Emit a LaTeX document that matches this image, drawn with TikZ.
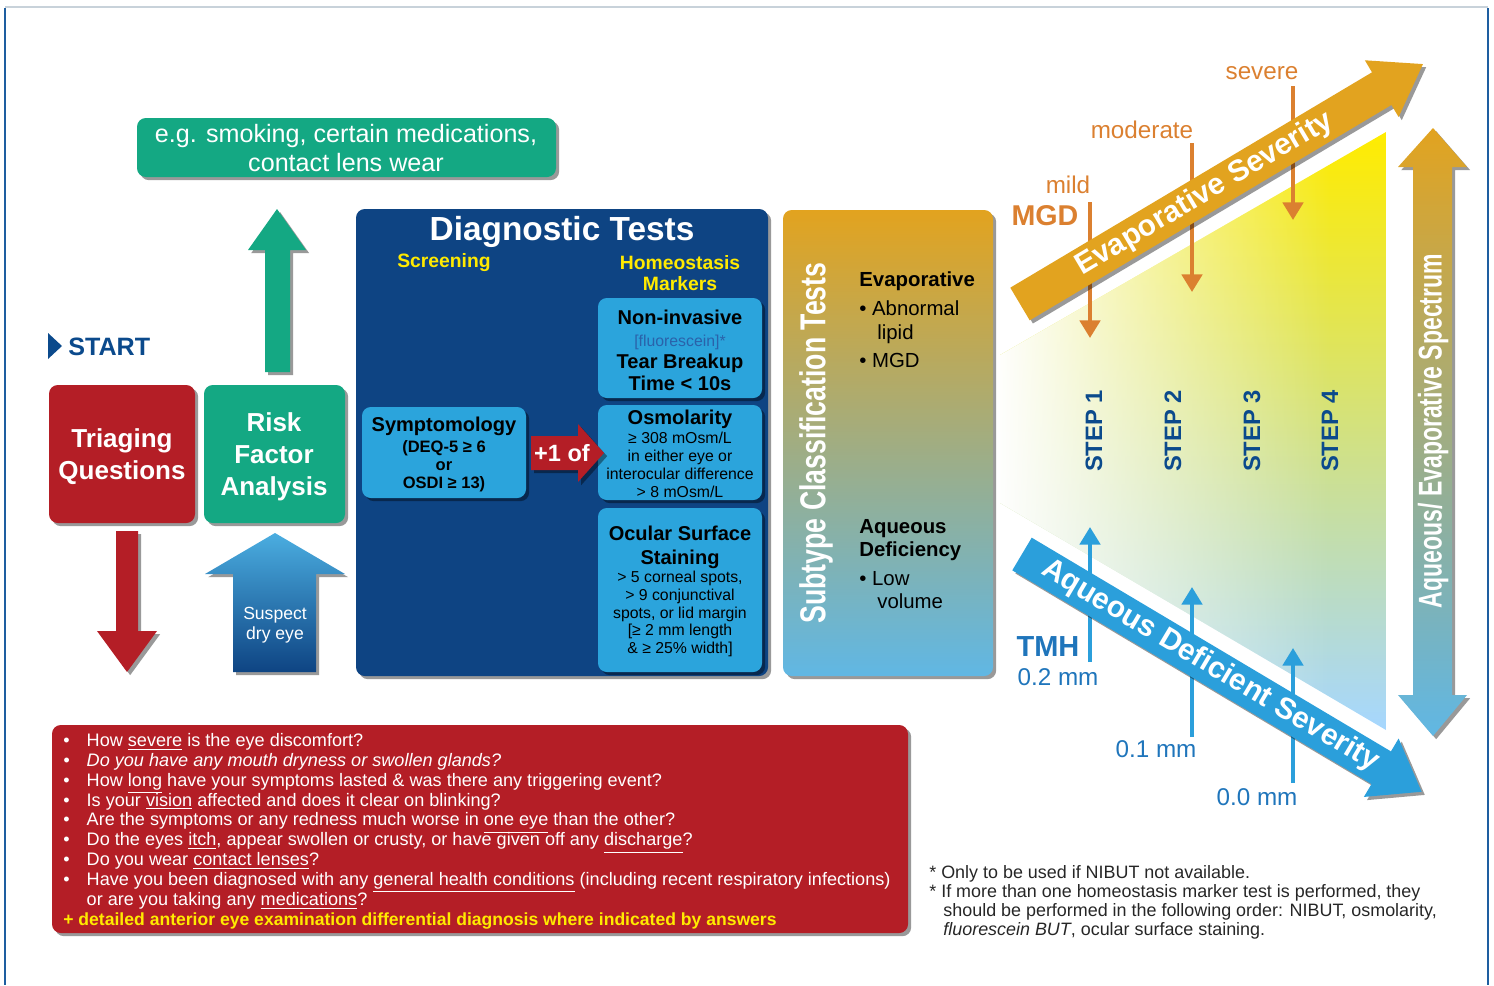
\documentclass[tikz,border=0pt]{standalone}
\usepackage{fontspec}
\setmainfont{Liberation Sans}
\usepackage{tikz}
\usetikzlibrary{shadows,fadings,arrows.meta}

\definecolor{triagered}{HTML}{B41E26}
\definecolor{riskgreen}{HTML}{14A883}
\definecolor{testnavy}{HTML}{0E4483}
\definecolor{testblue}{HTML}{2BA4DC}
\definecolor{hmyellow}{HTML}{FFEA00}
\definecolor{evaporange}{HTML}{E2A31F}
\definecolor{sevorange}{HTML}{DB8030}
\definecolor{stepblue}{HTML}{0B4A8C}
\definecolor{aqblue}{HTML}{2B9FDB}
\definecolor{tmhblue}{HTML}{1F75BB}
\definecolor{fluoblue}{HTML}{2A62AA}
\definecolor{framegray}{HTML}{C8D2DA}
\definecolor{frameblue}{HTML}{1E5EA0}

\newcommand{\fsz}[2]{\fontsize{#1}{#2}\selectfont}
\newcommand{\narrow}[2]{\scalebox{#1}[1]{#2}}
\newcommand{\qbullet}{\makebox[13.3pt][l]{•}}
\newcommand{\uln}[1]{\smash{\underline{#1}}}

\tikzset{
  boxshadow/.style={drop shadow={shadow xshift=1.8pt,shadow yshift=-1.8pt,opacity=.4,fill=black}},
  roundbox/.style={rounded corners=5pt, boxshadow},
  boxhead/.style={font=\bfseries\fsz{11.4}{12.5}, align=center, inner sep=0pt},
  boxbody/.style={font=\fsz{9}{10.2}, align=center, inner sep=0pt},
  bigtitle/.style={font=\bfseries\fsz{14.8}{18.1}, align=center, white, inner sep=0pt},
  subhead/.style={font=\bfseries\fsz{11.6}{13.1}, anchor=mid west, inner sep=0pt},
  subitem/.style={font=\fsz{11.6}{13.1}, anchor=mid west, inner sep=0pt},
  sevlabel/.style={font=\fsz{13.8}{16}, text=sevorange, inner sep=0pt},
  tmhlabel/.style={font=\fsz{13.8}{16}, text=tmhblue, inner sep=0pt},
  steplabel/.style={font=\bfseries\fsz{13.5}{16}, text=stepblue, rotate=90, inner sep=0pt},
  sevtick/.style={sevorange, line width=2.3pt, -{Triangle[width=11.5pt,length=10pt]}},
  tmhtick/.style={aqblue, line width=2.3pt, -{Triangle[width=11.5pt,length=10pt]}},
  bandtext/.style={font=\bfseries\fsz{17}{20}, white, inner sep=0pt}
}

\begin{document}
\begin{tikzpicture}[x=0.02cm, y=-0.02cm]
			\useasboundingbox (0,0) rectangle (1494,985);
			
			%%%%% FRAME %%%%%
			\draw[framegray, line width=0.6pt] (5,7) -- (1488,7);
			\draw[frameblue, line width=1.2pt] (5,8) -- (5,985);
			\draw[frameblue, line width=1.2pt] (1488,8) -- (1488,985);
			
			%%%%% LEFT: TRIAGE AND RISK FACTORS %%%%%
			\fill[roundbox, riskgreen] (137,118) rectangle (556,177);
			\node[font=\fsz{14.3}{16}, white, align=center, inner sep=0pt] (riskeg) at (346,148) {e.g. smoking, certain medications,\\contact lens wear};
			
			\fill[boxshadow, riskgreen] (265,372) -- (265,250) -- (248,250) -- (277,209) -- (306,250) -- (290,250) -- (290,372) -- cycle;
			
			\fill[stepblue] (48,333) -- (62,346) -- (48,359) -- cycle;
			\node[font=\bfseries\fsz{14.3}{16}, text=stepblue, anchor=west, inner sep=0pt] (start) at (68,347) {START};
			
			\fill[roundbox, triagered] (49,385) rectangle (195,523);
			\node[bigtitle] (triage) at (122,457) {Triaging\\Questions};
			\fill[roundbox, riskgreen] (204,385) rectangle (345,523);
			\node[bigtitle] (riskfactor) at (274,457) {Risk\\Factor\\Analysis};
			
			\fill[boxshadow, triagered] (116,531) -- (138,531) -- (138,631) -- (157,631) -- (127,672) -- (97,631) -- (116,631) -- cycle;
			
			\shade[boxshadow, top color=aqblue!85!white, bottom color=testnavy] (233,672) -- (233,574) -- (205,574) -- (275,533) -- (345,574) -- (316,574) -- (316,672) -- cycle;
			\node[font=\fsz{10}{11.3}, white, align=center, inner sep=0pt] (suspect) at (275,625) {Suspect\\dry eye};
			
			%%%%% DIAGNOSTIC TESTS %%%%%
			\fill[roundbox, testnavy] (356,209) rectangle (768,676);
			\node[font=\bfseries\fsz{19}{22}, white, inner sep=0pt] (diagtitle) at (562,232) {Diagnostic Tests};
			\node[font=\bfseries\fsz{11}{11.9}, text=hmyellow, inner sep=0pt] (screening) at (444,263) {Screening};
			\node[font=\bfseries\fsz{11}{11.9}, text=hmyellow, align=center, inner sep=0pt] (homeo) at (680,273) {Homeostasis\\Markers};
			
			\fill[roundbox, testblue] (598,298) rectangle (762,398);
			\node[boxhead] (nibut) at (680,350) {Non-invasive\\{\mdseries\fsz{9}{9}\color{fluoblue}[fluorescein]*}\\Tear Breakup\\Time < 10s};
			
			\fill[roundbox, testblue] (598,405) rectangle (762,500);
			\node[boxhead] (osmohead) at (680,419) {Osmolarity};
			\node[boxbody] (osmobody) at (680,465) {≥ 308 mOsm/L\\in either eye or\\interocular difference\\> 8 mOsm/L};
			
			\fill[roundbox, testblue] (598,508) rectangle (762,672);
			\node[boxhead, font=\bfseries\fsz{11.4}{13.6}] (osshead) at (680,547) {Ocular Surface\\Staining};
			\node[boxbody, font=\fsz{9}{10.1}] (ossbody) at (680,614) {> 5 corneal spots,\\> 9 conjunctival\\spots, or lid margin\\{[}≥ 2 mm length\\\& ≥ 25\% width{]}};
			
			\fill[roundbox, testblue] (362,407) rectangle (526,498);
			\node[boxhead] (symphead) at (444,426) {Symptomology};
			\node[boxbody, font=\bfseries\fsz{9.4}{10.2}] (sympbody) at (444,466) {(DEQ-5 ≥ 6\\or\\OSDI ≥ 13)};
			
			\fill[boxshadow, triagered] (531,436) -- (578,436) -- (578,424) -- (604,453) -- (578,482) -- (578,470) -- (531,470) -- cycle;
			\node[font=\bfseries\fsz{13.4}{15}, white, inner sep=0pt] (plusone) at (562,453) {+1 of};
			
			%%%%% SUBTYPE CLASSIFICATION %%%%%
			\shade[roundbox, top color=evaporange, middle color=evaporange!45!aqblue!70!white, bottom color=aqblue!75!white] (783,210) rectangle (993,676);
			\node[font=\bfseries\fsz{20.5}{22}, white, rotate=90, inner sep=0pt] (subtype) at (816,443) {\narrow{0.74}{Subtype Classification Tests}};
			
			\node[subhead] (evaphead) at (859,282) {Evaporative};
			\node[subitem] (abnormal) at (859,311) {• Abnormal};
			\node[subitem] (lipid) at (877,335) {lipid};
			\node[subitem] (mgd) at (859,363) {• MGD};
			\node[subhead] (aqhead) at (859,529) {Aqueous};
			\node[subhead] (aqhead2) at (859,552) {Deficiency};
			\node[subitem] (lowvol) at (859,581) {• Low};
			\node[subitem] (volume) at (877,604) {volume};
			
			%%%%% SEVERITY TRIANGLE %%%%%
			\begin{scope}
				\clip (1000,355) -- (1386,132) -- (1386,730) -- (1000,503) -- cycle;
				\shade[top color=yellow!85!orange, middle color=green!20!yellow!55!cyan!60!white, bottom color=cyan!55!blue!35!white] (1000,132) rectangle (1386,730);
				\fill[white, path fading=east] (995,120) rectangle (1330,740);
			\end{scope}
			
			\node[steplabel] (step1) at (1094,431) {STEP 1};
			\node[steplabel] (step2) at (1173,431) {STEP 2};
			\node[steplabel] (step3) at (1252,431) {STEP 3};
			\node[steplabel] (step4) at (1330,431) {STEP 4};
			
			\node[sevlabel] (severe) at (1262,73) {severe};
			\node[sevlabel] (moderate) at (1142,130) {moderate};
			\node[sevlabel] (mild) at (1068,185) {mild};
			\node[sevlabel, font=\bfseries\fsz{16.3}{18}] (mgdlabel) at (1045,216) {MGD};
			\coordinate (severetip) at (1293,220);
			\coordinate (moderatetip) at (1192,292);
			\coordinate (mildtip) at (1090,338);
			\draw[sevtick] (1293,86) -- (severetip);
			\draw[sevtick] (1192,143) -- (moderatetip);
			\draw[sevtick] (1090,202) -- (mildtip);
			
			\node[tmhlabel, font=\bfseries\fsz{16.5}{18}] (tmh) at (1048,647) {TMH};
			\node[tmhlabel] (tmhtwo) at (1058,677) {0.2 mm};
			\node[tmhlabel] (tmhone) at (1156,749) {0.1 mm};
			\node[tmhlabel] (tmhzero) at (1257,797) {0.0 mm};
			\coordinate (twotip) at (1090,527);
			\coordinate (onetip) at (1192,587);
			\coordinate (zerotip) at (1293,648);
			\draw[tmhtick] (1090,662) -- (twotip);
			\draw[tmhtick] (1192,737) -- (onetip);
			\draw[tmhtick] (1293,783) -- (zerotip);
			
			\begin{scope}[shift={(1020,304)}, rotate=30.77]
				\fill[boxshadow, evaporange] (0,-19) -- (421,-19) -- (421,-33) -- (469,0) -- (421,33) -- (421,19) -- (0,19) -- cycle;
				\node[bandtext, rotate=30.77] (evapsev) at (215,0) {Evaporative Severity};
			\end{scope}
			
			\begin{scope}[shift={(1022,554)}, rotate=-30.75]
				\fill[boxshadow, aqblue] (0,-19) -- (418,-19) -- (418,-34) -- (465,0) -- (418,34) -- (418,19) -- (0,19) -- cycle;
				\node[bandtext, rotate=-30.75] (aqsev) at (219,0) {Aqueous Deficient Severity};
			\end{scope}
			
			\shade[boxshadow, top color=evaporange, middle color=evaporange!45!aqblue!70!white, bottom color=aqblue!75!white] (1433,128) -- (1467,167) -- (1452,167) -- (1452,695) -- (1467,695) -- (1433,736) -- (1398,695) -- (1413,695) -- (1413,167) -- (1398,167) -- cycle;
			\node[font=\bfseries\fsz{18.7}{20}, white, rotate=90, inner sep=0pt] (spectrum) at (1433,431) {\narrow{0.7}{Aqueous/ Evaporative Spectrum}};
			
			%%%%% TRIAGING QUESTIONS %%%%%
			\fill[roundbox, triagered] (52,725) rectangle (908,933);
			\node[font=\fsz{10.3}{11.3}, white, align=left, anchor=north west, inner sep=0pt] (questions) at (63,733) {%
				\qbullet How \uln{severe} is the eye discomfort?\\
				\itshape\qbullet Do you have any mouth dryness or swollen glands?\upshape\\
				\qbullet How \uln{long} have your symptoms lasted \& was there any triggering event?\\
				\qbullet Is your \uln{vision} affected and does it clear on blinking?\\
				\qbullet Are the symptoms or any redness much worse in \uln{one eye} than the other?\\
				\qbullet Do the eyes \uln{itch}, appear swollen or crusty, or have given off any \uln{discharge}?\\
				\qbullet Do you wear \uln{contact lenses}?\\
				\qbullet Have you been diagnosed with any \uln{general health conditions} (including recent respiratory infections)\\
				\hspace*{13.3pt}or are you taking any \uln{medications}?\\
				{\bfseries\fsz{10}{11.3}\color{hmyellow}+ detailed anterior eye examination differential diagnosis where indicated by answers}};
			
			%%%%% FOOTNOTES %%%%%
			\node[font=\fsz{10.2}{10.8}, text=black!85, align=left, anchor=north west, inner sep=0pt] (footnotes) at (929,865) {%
				* Only to be used if NIBUT not available.\\
				* If more than one homeostasis marker test is performed, they\\
				\hspace*{8pt}should be performed in the following order: NIBUT, osmolarity,\\
				\hspace*{8pt}\textit{fluorescein BUT}, ocular surface staining.};
			
\end{tikzpicture}
\end{document}
